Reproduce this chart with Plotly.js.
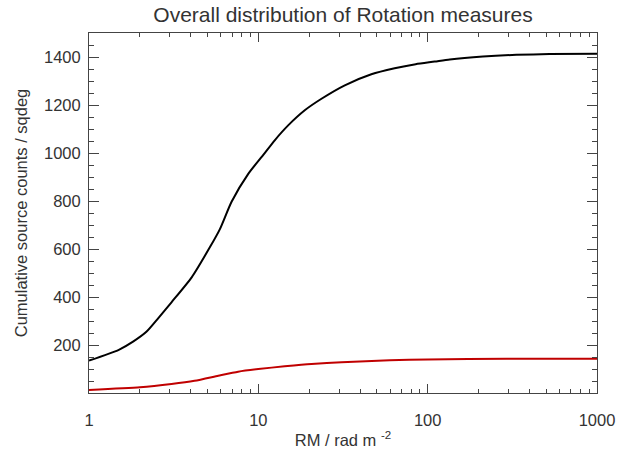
<!DOCTYPE html>
<html>
<head>
<meta charset="utf-8">
<script src="https://cdn.plot.ly/plotly-3.0.1.min.js"></script>
<style>html,body{margin:0;padding:0;background:#fff;}#chart{width:629px;height:456px;}</style>
</head>
<body>
<div id="chart"></div>
<script>
// Data
const allRM = [1, 1.5, 1.82, 2.19, 2.56, 3.07, 4.04, 5.17, 5.93, 6.95, 8.7, 10.7, 12.5, 15, 18.8, 23.6, 32.4, 46.5, 63.8, 85, 110, 135, 212, 334, 525, 1000];
const allCounts = [135, 180, 214, 256, 311, 378, 482, 607, 683, 797, 912, 992, 1053, 1115, 1178, 1226, 1282, 1328, 1353, 1370, 1381, 1390, 1402, 1409, 1412, 1414];
const subRM = [1, 2, 3.07, 4.2, 5.8, 7.6, 10, 14.3, 20.6, 31, 59.7, 100, 291, 1000];
const subCounts = [12.5, 23.6, 37.5, 51, 72, 89, 100, 111, 121, 128, 136, 140, 143, 143];
const xTickVals = [1, 10, 100, 1000];
const xTickText = ['1', '10', '100', '1000'];
const xMinorVals = [2, 3, 4, 5, 6, 7, 8, 9, 20, 30, 40, 50, 60, 70, 80, 90, 200, 300, 400, 500, 600, 700, 800, 900];
const yTickVals = [200, 400, 600, 800, 1000, 1200, 1400];

const font = {family: '"Liberation Sans", Arial, Helvetica, sans-serif', color: '#333', size: 16.5};

const traces = [
  {x: allRM, y: allCounts, type: 'scatter', mode: 'lines', line: {color: '#000000', width: 2, shape: 'spline', smoothing: 0.6}, hoverinfo: 'skip'},
  {x: subRM, y: subCounts, type: 'scatter', mode: 'lines', line: {color: '#c00000', width: 2, shape: 'spline', smoothing: 0.6}, hoverinfo: 'skip'}
];

const layout = {
  width: 629, height: 456,
  margin: {l: 89, r: 32, t: 33, b: 63},
  paper_bgcolor: '#fff', plot_bgcolor: '#fff',
  showlegend: false,
  font: font,
  title: {text: 'Overall distribution of Rotation measures', font: {family: font.family, color: '#333', size: 21}, x: 0.5453, xanchor: 'center', y: 0.967, yanchor: 'middle'},
  xaxis: {
    type: 'log', range: [0, 3],
    tickvals: xTickVals, ticktext: xTickText,
    ticks: 'inside', ticklen: 9, tickwidth: 1, tickcolor: '#444',
    minor: {tickvals: xMinorVals, ticks: 'inside', ticklen: 4, tickwidth: 1, tickcolor: '#444', showgrid: false},
    showline: true, linecolor: '#444', linewidth: 1, mirror: 'ticks',
    showgrid: false, zeroline: false,
    ticklabelstandoff: 12,
    tickfont: font,
    title: {text: 'RM / rad m <sup>-2</sup>', font: font, standoff: 6}
  },
  yaxis: {
    range: [0, 1500],
    tickvals: yTickVals,
    ticks: 'inside', ticklen: 10, tickwidth: 1, tickcolor: '#444',
    minor: {dtick: 50, ticks: 'inside', ticklen: 5, tickwidth: 1, tickcolor: '#444', showgrid: false},
    showline: true, linecolor: '#444', linewidth: 1, mirror: 'ticks',
    showgrid: false, zeroline: false,
    ticklabelstandoff: 4,
    tickfont: font,
    title: {text: 'Cumulative source counts / sqdeg', font: font, standoff: 12}
  }
};

Plotly.newPlot('chart', traces, layout, {staticPlot: true, displayModeBar: false});
</script>
</body>
</html>
